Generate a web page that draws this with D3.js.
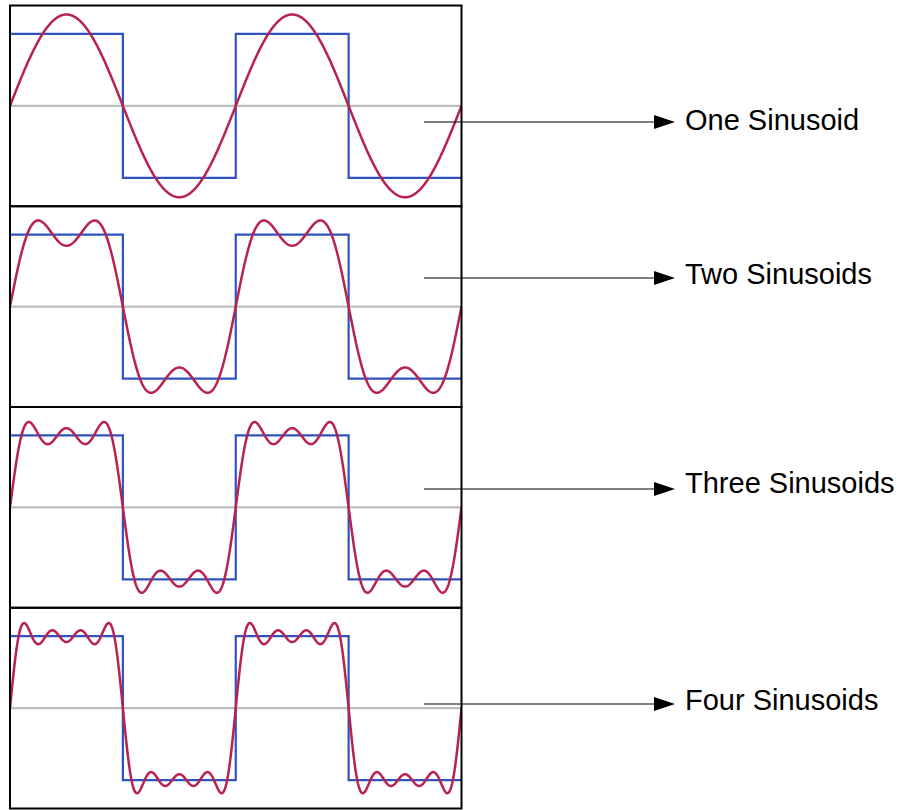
<!DOCTYPE html>
<html>
<head>
<meta charset="utf-8">
<script src="https://cdn.jsdelivr.net/npm/d3@7"></script>
<style>
  body { margin: 0; background: #fff; }
  text { font-family: "Liberation Sans", Arial, sans-serif; }
</style>
</head>
<body>
<svg id="chart" width="898" height="810"></svg>
<script>
// harmonic numbers and amplitudes of the sinusoids (square wave amplitude = 1)
var harmonics = [1, 3, 5, 7];
var amplitudes = [1.27, 0.424, 0.255, 0.182];

// how many sinusoids each panel sums
var termCounts = [1, 2, 3, 4];
var labels = ["One Sinusoid", "Two Sinusoids", "Three Sinusoids", "Four Sinusoids"];

// square wave: start of each half period (in periods) and its level
var squareTimes = [0, 0.5, 1, 1.5, 2];
var squareLevels = [1, -1, 1, -1, -1];

var labelBaselines = [130, 284, 493, 710];
var arrowYs = [122, 278, 489, 704];

var svg = d3.select("#chart");

var x = d3.scaleLinear().domain([0, 2]).range([10, 461.5]);
var panelTop = d3.scaleLinear().domain([0, 4]).range([5.5, 808.5]);
var panelH = panelTop(1) - panelTop(0);

var samples = d3.range(0, 2.0001, 0.002);

function partialSum(t, n) {
    var s = 0;
    for (var k = 0; k < n; k++) {
        s += amplitudes[k] * Math.sin(2 * Math.PI * harmonics[k] * t);
    }
    return s;
}

svg.append("defs").append("clipPath").attr("id", "clip")
    .append("rect")
    .attr("x", x(0)).attr("y", panelTop(0))
    .attr("width", x(2) - x(0)).attr("height", panelTop(4) - panelTop(0));

termCounts.forEach(function (n, i) {
    var top = panelTop(i);
    var y = d3.scaleLinear().domain([-1.395, 1.395]).range([top + panelH, top]);

    var g = svg.append("g").attr("clip-path", "url(#clip)");

    // zero line
    g.append("line")
        .attr("x1", x(0)).attr("x2", x(2))
        .attr("y1", y(0)).attr("y2", y(0))
        .attr("stroke", "#bdbdbd")
        .attr("stroke-width", 2.4);

    // square wave
    var step = d3.line()
        .x(function (d) { return x(d); })
        .y(function (d, j) { return y(squareLevels[j]); })
        .curve(d3.curveStepAfter);
    g.append("path")
        .attr("d", step(squareTimes))
        .attr("fill", "none")
        .attr("stroke", "#2f52c0")
        .attr("stroke-width", 2.2);

    // fourier partial sum
    var wave = d3.line()
        .x(function (t) { return x(t); })
        .y(function (t) { return y(partialSum(t, n)); });
    g.append("path")
        .attr("d", wave(samples))
        .attr("fill", "none")
        .attr("stroke", "#b8224f")
        .attr("stroke-width", 2.5);

    // panel frame
    svg.append("rect")
        .attr("x", x(0)).attr("y", top)
        .attr("width", x(2) - x(0)).attr("height", panelH)
        .attr("fill", "none")
        .attr("stroke", "#000")
        .attr("stroke-width", 2);
});

// arrows and labels
labels.forEach(function (label, i) {
    var ay = arrowYs[i];
    svg.append("line")
        .attr("x1", 424).attr("x2", 658)
        .attr("y1", ay).attr("y2", ay)
        .attr("stroke", "#000")
        .attr("stroke-width", 1.2);
    svg.append("path")
        .attr("d", "M654," + (ay - 7) + "L675," + ay + "L654," + (ay + 7) + "Z")
        .attr("fill", "#000");
    svg.append("text")
        .attr("x", 685)
        .attr("y", labelBaselines[i])
        .attr("font-size", 29)
        .attr("fill", "#000")
        .text(label);
});
</script>
</body>
</html>
